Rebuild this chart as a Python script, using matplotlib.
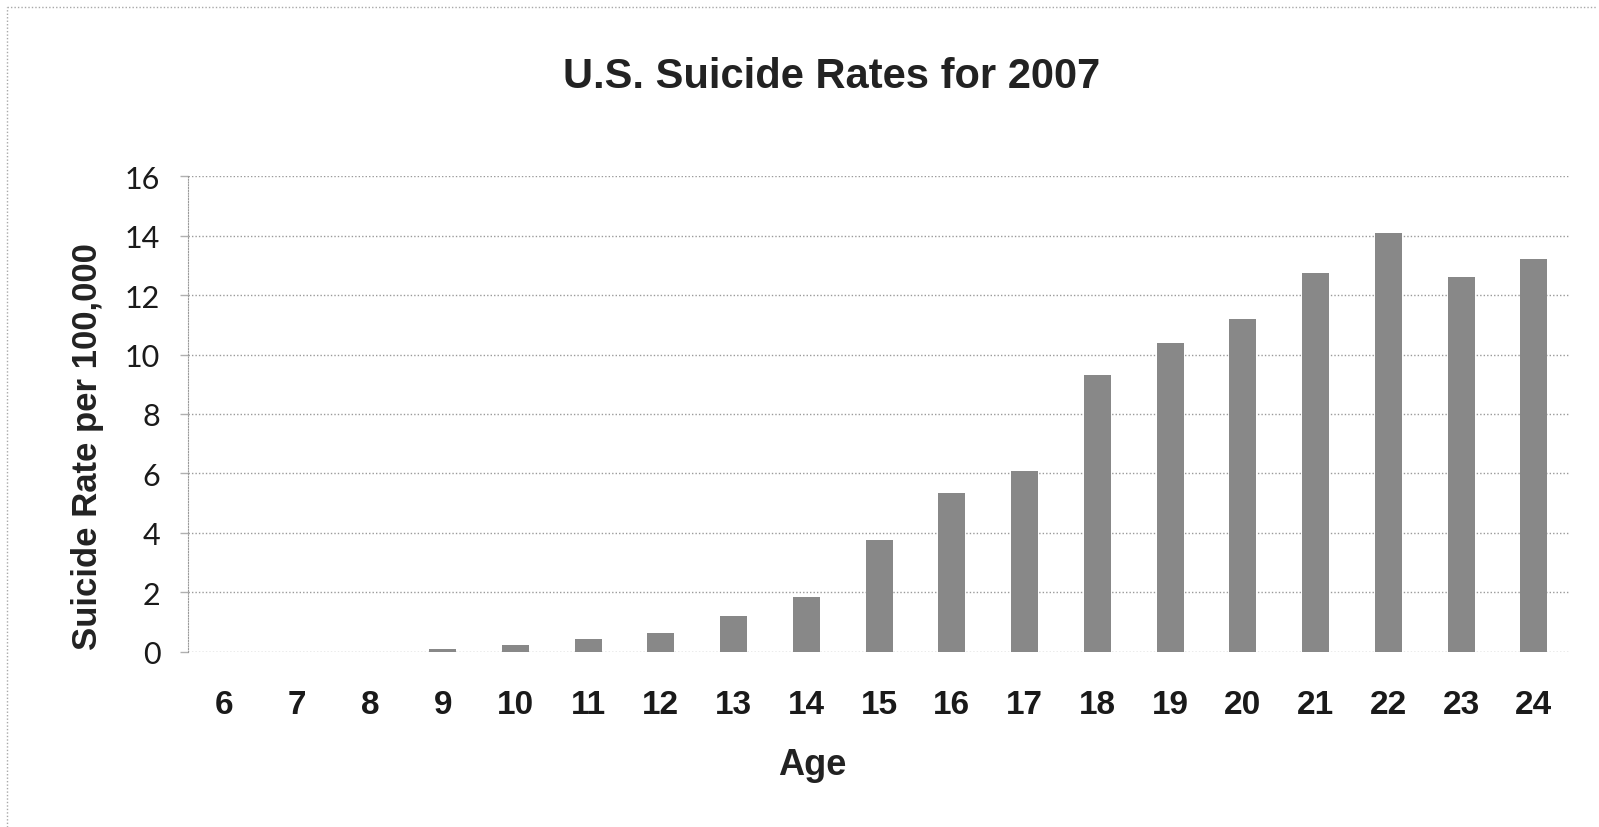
import matplotlib.pyplot as plt
from matplotlib.lines import Line2D

# data
ages = [6, 7, 8, 9, 10, 11, 12, 13, 14, 15, 16, 17, 18, 19, 20, 21, 22, 23, 24]
rates = [0, 0, 0, 0.1, 0.25, 0.45, 0.65, 1.2, 1.85, 3.75, 5.35, 6.1, 9.3,
         10.4, 11.2, 12.75, 14.1, 12.6, 13.2]
yticks = [0, 2, 4, 6, 8, 10, 12, 14, 16]

fig = plt.figure(figsize=(15.99, 8.28), dpi=100)
ax = fig.add_axes([0.1176, 0.2114, 0.8644, 0.5748])

x = list(range(len(ages)))
ax.bar(x, rates, width=0.37, color='#888888', zorder=3)

ax.set_xlim(-0.5, len(ages) - 0.5)
ax.set_ylim(0, 16)
ax.set_yticks(yticks)
ax.set_xticks(x)
ax.set_xticklabels([str(a) for a in ages], fontsize=24, fontweight='bold',
                   family='Liberation Sans')
ax.set_yticklabels([str(t) for t in yticks], fontsize=22, family='Lato')
ax.tick_params(axis='x', length=0, pad=27, colors='#1a1a1a')
ax.tick_params(axis='y', length=6, width=1, color='#b0b0b0', pad=14,
               labelcolor='#1a1a1a')

# dotted gridlines like the scanned excel chart
ax.yaxis.grid(True, linestyle=(0, (1, 1.5)), color='#9a9a9a', linewidth=1, zorder=0)
for s in ['top', 'right', 'bottom']:
    ax.spines[s].set_visible(False)
ax.spines['left'].set_linestyle((0, (1, 1.5)))
ax.spines['left'].set_color('#9a9a9a')

# title and axis labels sit where the excel chart put them
fig.text(0.520, 0.907, 'U.S. Suicide Rates for 2007', fontsize=30, fontweight='bold',
         family='Liberation Sans', color='#222222', ha='center', va='center')
fig.text(0.508, 0.076, 'Age', fontsize=26, fontweight='bold',
         family='Liberation Sans', color='#222222', ha='center', va='center')
fig.text(0.055, 0.461, 'Suicide Rate per 100,000', fontsize=25, fontweight='bold',
         family='Liberation Sans', color='#222222', ha='center', va='center',
         rotation=90)

# faint outer chart border (top and left visible in the scan)
fig.add_artist(Line2D([0.0044, 0.998], [0.9903, 0.9903], transform=fig.transFigure,
                      color='#a8a8a8', linewidth=1, linestyle=(0, (1, 1.5))))
fig.add_artist(Line2D([0.0044, 0.0044], [0.0, 0.9903], transform=fig.transFigure,
                      color='#a8a8a8', linewidth=1, linestyle=(0, (1, 1.5))))

fig.savefig('out.png', dpi=100)
